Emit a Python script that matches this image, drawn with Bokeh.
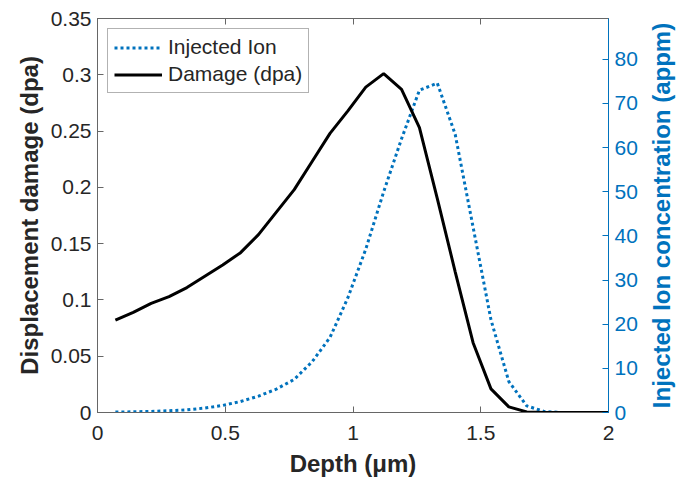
import math
from bokeh.plotting import figure
from bokeh.layouts import row
from bokeh.models import Range1d, LinearAxis, Legend, LegendItem, FixedTicker, Label
from bokeh.embed import file_html
from bokeh.resources import INLINE

depth = [0.07, 0.14, 0.21, 0.28, 0.35, 0.42, 0.49, 0.56, 0.63, 0.70,
         0.77, 0.84, 0.91, 0.98, 1.05, 1.12, 1.19, 1.26, 1.33, 1.40,
         1.47, 1.54, 1.61, 1.68, 1.75, 1.82, 1.89, 1.96, 2.00]
damage_dpa = [0.082, 0.089, 0.097, 0.103, 0.111, 0.121, 0.131, 0.142, 0.158, 0.178,
              0.198, 0.223, 0.248, 0.268, 0.289, 0.301, 0.287, 0.253, 0.190, 0.125,
              0.062, 0.021, 0.005, 0.0005, 0.0, 0.0, 0.0, 0.0, 0.0]
ion_appm = [0.1, 0.15, 0.25, 0.4, 0.6, 1.0, 1.6, 2.5, 3.7, 5.3,
            7.5, 11.5, 17.0, 26.0, 37.0, 50.0, 62.0, 73.0, 74.6, 63.0,
            42.0, 21.0, 7.0, 1.5, 0.2, 0.0, 0.0, 0.0, 0.0]

x_ticks = [0, 0.5, 1, 1.5, 2]
x_tick_labels = ["0", "0.5", "1", "1.5", "2"]
dpa_ticks = [0, 0.05, 0.1, 0.15, 0.2, 0.25, 0.3, 0.35]
dpa_tick_labels = ["0", "0.05", "0.1", "0.15", "0.2", "0.25", "0.3", "0.35"]
ion_ticks = [0, 10, 20, 30, 40, 50, 60, 70, 80]
ion_tick_labels = ["0", "10", "20", "30", "40", "50", "60", "70", "80"]
ion_axis_title = "Injected Ion concentration (appm)"

FONT = "Liberation Sans"
DARK = "#262626"
FRAME = "#666666"
BLUE = "#0072BD"

p = figure(frame_width=511, frame_height=394,
           x_range=Range1d(0, 2), y_range=Range1d(0, 0.35),
           output_backend="svg", toolbar_location=None,
           min_border_left=97, min_border_right=40,
           min_border_top=18, min_border_bottom=70)
p.extra_y_ranges = {"ion": Range1d(0, 89.25)}
p.xgrid.visible = False
p.ygrid.visible = False
p.outline_line_color = FRAME
p.background_fill_color = "white"


def style(ax, color_line, color_text, ticks, labels):
    ax.ticker = FixedTicker(ticks=ticks)
    ax.major_label_overrides = {t: l for t, l in zip(ticks, labels)}
    ax.axis_line_color = color_line
    ax.major_tick_line_color = color_line
    ax.major_tick_in = 6
    ax.major_tick_out = 0
    ax.minor_tick_line_color = None
    ax.major_label_text_font = FONT
    ax.major_label_text_font_size = "21px"
    ax.major_label_text_color = color_text
    ax.major_label_standoff = 6
    ax.axis_label_text_font = FONT
    ax.axis_label_text_font_size = "24px"
    ax.axis_label_text_font_style = "bold"
    ax.axis_label_text_color = color_text


xa = p.xaxis[0]
style(xa, FRAME, DARK, x_ticks, x_tick_labels)
xa.major_label_standoff = 13
xa.axis_label = "Depth (μm)"
xa.axis_label_standoff = 7

ya = p.yaxis[0]
style(ya, FRAME, DARK, dpa_ticks, dpa_tick_labels)
ya.axis_label = "Displacement damage (dpa)"
ya.axis_label_standoff = 5

top = LinearAxis()
style(top, FRAME, DARK, x_ticks, ["" for _ in x_ticks])
top.major_label_text_font_size = "1px"
top.major_label_standoff = 0
p.add_layout(top, "above")

ra = LinearAxis(y_range_name="ion")
style(ra, BLUE, BLUE, ion_ticks, ion_tick_labels)
ra.major_label_standoff = 6
p.add_layout(ra, "right")

r_ion = p.line(depth, ion_appm, y_range_name="ion", line_color=BLUE,
               line_width=3, line_dash="3 3")
r_dmg = p.line(depth, damage_dpa, line_color="black", line_width=3)

legend = Legend(items=[LegendItem(label="Injected Ion", renderers=[r_ion]),
                       LegendItem(label="Damage (dpa)", renderers=[r_dmg])],
                location="top_left")
legend.margin = 10
legend.padding = 6
legend.spacing = 3
legend.glyph_width = 48
legend.glyph_height = 21
legend.label_height = 21
legend.label_standoff = 6
legend.label_text_font = FONT
legend.label_text_font_size = "21px"
legend.label_text_color = DARK
legend.border_line_color = FRAME
legend.border_line_width = 1
legend.background_fill_alpha = 1.0
p.add_layout(legend)

# narrow companion figure carrying the right-hand axis title (bottom-to-top)
p2 = figure(frame_width=42, frame_height=394,
            x_range=Range1d(0, 1), y_range=p.y_range,
            output_backend="svg", toolbar_location=None,
            x_axis_location=None, y_axis_location=None,
            min_border_left=0, min_border_right=0,
            min_border_top=18, min_border_bottom=71)
p2.xgrid.visible = False
p2.ygrid.visible = False
p2.outline_line_color = None
p2.add_layout(Label(x=0.31, y=0.175, text=ion_axis_title,
                    angle=math.pi / 2, text_align="center", text_baseline="middle",
                    text_font=FONT, text_font_size="24px", text_font_style="bold",
                    text_color=BLUE))

layout = row(p, p2)
open("out.html", "w").write(file_html(layout, INLINE))
